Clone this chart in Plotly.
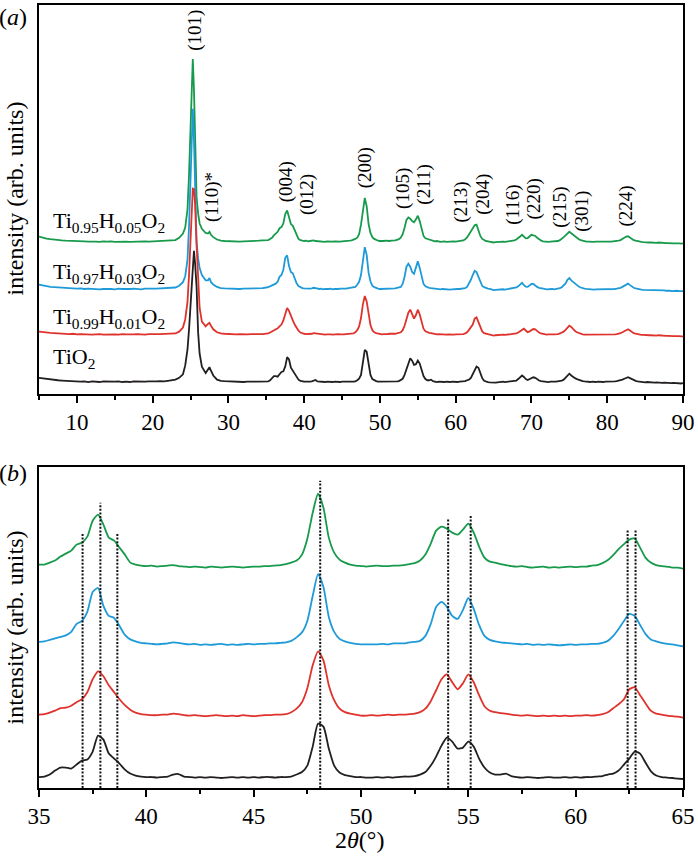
import plotly.graph_objects as go

# ---------------- data (2-theta in degrees, intensity in arb. units above each baseline) -------------
theta_low = [5.0 + 0.5 * i for i in range(36)]            # 5.0 ... 22.5
theta_101 = [23.0, 23.5, 24.0, 24.3, 24.6, 24.8, 25.0, 25.15, 25.3, 25.45, 25.6, 25.8,
             26.0, 26.2, 26.5, 27.0, 27.3, 27.5, 27.7, 28.0, 28.5, 29.0]
theta_mid = [29.5 + 0.5 * i for i in range(11)]            # 29.5 ... 34.5
theta_high = [35.0 + 0.25 * i for i in range(221)]         # 35.0 ... 90.0

# ---- TiO2 (black)
tio2_low = [7, 6, 5, 4.5, 3.5, 3, 2.5, 2, 1.5, 1, 1.5, 0.5, 1, 0, 1, 0.5, 0, 1, 0.5, 0,
            0.5, 1, 0, 0.5, 0, 1, 0.5, 0, 0.5, 1, 0.5, 1, 1.5, 1, 2, 2.5]
tio2_101 = [4, 7, 13, 28, 55, 88, 130, 170, 205, 221, 200, 160, 84, 48, 26, 15, 21, 25, 19, 11, 4, 2]
tio2_mid = [1.5, 1, 0.5, 1, 0.5, 0, 0.5, 1, 0.5, 0.5, 0.5]
tio2_high = [
    0.5, 1, 3, 7,   10, 10, 9, 13,   17, 18, 26, 42,   38, 24, 19, 14,   8, 4, 2, 1,        # 35-39
    0.5, 0.5, 0, 0.5,   1, 3, 3.5, 1,   0.5, 0, 0.5, 0,   0.5, 0, -0.5, 0,   0.5, 0, 0.5, 0,  # 40-44
    0.5, 0, 0.5, 0.5,   0, 0.5, 0.5, 1,   3, 5.5, 12, 31,   54, 51, 29, 12,   5, 2.5, 1.5, 0.5,  # 45-49
    0.5, 0, 0, 0.5,   0, 0.5, 0, 0.5,   1, 1, 1.5, 3,   5.5, 12, 21, 32,   40, 36, 29, 30,  # 50-54
    36, 31, 19, 10,   5, 3, 3, 4,   1.5, 0.5, 0, 0.5,   0, -0.5, 0, 0.5,   0, 0, 0.5, 0,     # 55-59
    0.5, 0, 0.5, 0.5,   1, 1.5, 3, 4,   7, 13, 19, 26,   24, 15, 6.5, 2,   0.5, 0, -0.5, -1,  # 60-64
    -1.5, -1, -0.5, 0,   0, 0.5, 0, 0.5,   0, 0.5, 1, 1.5,   2.5, 5, 8, 11,   8.5, 5, 3.5, 5,  # 65-69
    6.5, 8, 7, 4,   2.5, 1.5, 1, 0.5,   0.5, 0, 0.5, 0,   0.5, 0.5, 1, 1.5,   2.5, 4, 7, 11,  # 70-74
    14, 11, 8, 6.5,   5, 3.5, 2.5, 1.5,   1, 0.5, 0.5, 0,   0.5, 0, 0, 0.5,   0, 0.5, 0, 0.5,  # 75-79
    0.5, 0, 0.5, 1,   1, 1.5, 2, 3,   4, 5.5, 7, 8,   6.5, 4.5, 3, 2,   1, 0.5, 0, 0,        # 80-84
    -0.5, 0, -0.5, -1,   -0.5, -1, -0.5, -1,   -1, -1.5, -1, -1.5,   -1, -1.5, -2, -1.5,
    -2, -1.5, -2, -2.5,                                                                     # 85-89
    -2]                                                                                     # 90

# ---- Ti0.99H0.01O2 (red)
h01_low = [5, 4, 3.5, 3, 2.5, 2, 2, 1.5, 1, 1.5, 0.5, 1, 0.5, 1, 0, 0.5, 1, 0, 0.5, 1,
           0.5, 0, 1, 0.5, 0, 0.5, 1, 0.5, 0, 1, 0.5, 1, 1, 1.5, 1.5, 2]
h01_101 = [2, 5, 12, 26, 55, 100, 165, 220, 246, 245, 220, 150, 90, 45, 22, 14, 18, 20, 15, 9, 4, 2]
h01_mid = [1.5, 1, 1, 0.5, 1, 0.5, 0.5, 1, 0.5, 1, 1]
h01_high = [
    1.5, 2, 3.5, 5.5,   8, 8.5, 10.5, 14,   17, 24, 37, 45,   40, 31, 24, 17,   11, 6.5, 3.5, 2,
    1.5, 1, 1, 1.5,   1.5, 2.5, 2, 1,   0.5, 1, 0.5, 0,   0.5, 1, 0.5, 0,   0.5, 0, 1, 0.5,
    0, 0.5, 1, 1,   1.5, 1.5, 2, 4,   7.5, 14, 28, 51,   65, 56, 31, 16,   7.5, 4, 2.5, 1.5,
    0.5, 0.5, 1, 0.5,   1, 1.5, 1, 1.5,   1.5, 2, 2.5, 4,   7.5, 15, 26, 37,   42, 34, 27, 33,
    42, 34, 21, 10,   5.5, 4, 3, 2.5,   1.5, 1, 0.5, 1,   0.5, 0, 0.5, 0,   0.5, 0, 0.5, 0,
    0.5, 0.5, 1, 0.5,   1, 2, 4, 8,   12, 17, 27, 29,   21, 13, 5.5, 2.5,   1.5, 0.5, 0, -0.5,
    -1.5, -1, -0.5, -1,   -0.5, 0, -0.5, 0,   -0.5, 0, 0.5, 1,   2, 3.5, 5.5, 8.5,   10, 7, 4, 5.5,
    7.5, 9.5, 9, 6,   3.5, 2, 1, 0.5,   0, 0.5, 0, 0.5,   0.5, 0.5, 1, 2,   3, 5, 8, 12,
    15, 13, 9, 6,   4, 2.5, 1.5, 0.5,   0, 0, -0.5, 0,   0, -0.5, 0, 0,   -0.5, 0, 0, 0.5,
    0, 0, 0.5, 0.5,   0.5, 1, 1.5, 2.5,   4, 6, 8, 9,   7, 4.5, 2.5, 1.5,   0.5, 0, -0.5, -0.5,
    -1, -0.5, -1, -1,   -1.5, -1, -1.5, -1,   -1.5, -2, -1.5, -2,   -2, -2.5, -2, -2.5,
    -2.5, -2, -2.5, -3,
    -3]

# ---- Ti0.97H0.03O2 (blue)
h03_low = [8, 6.5, 5, 4, 3.5, 3, 2.5, 2, 1.5, 2, 1, 1.5, 0.5, 1, 0.5, 1, 0, 0.5, 1, 0.5,
           0, 1, 0.5, 0, 0.5, 1, 0.5, 0, 1, 0.5, 1, 1, 1.5, 1.5, 2, 2.5]
h03_101 = [3, 6, 12, 22, 50, 105, 185, 275, 304, 252, 150, 80, 52, 36, 24, 15, 15, 19, 12, 8, 4, 2]
h03_mid = [1.5, 1, 1.5, 1, 0.5, 1, 1, 1.5, 1.5, 2, 2]
h03_high = [
    3, 3.5, 5, 6.5,   8, 9.5, 13, 21,   24, 33, 53, 57,   39, 29, 27, 19,   10, 5.5, 3.5, 2,
    1.5, 1, 0.5, 1,   1.5, 2.5, 2, 1,   0.5, 1, 0, 0.5,   0, 0.5, 1, 0,   0.5, 0, 0.5, 1,
    0.5, 1, 1, 1.5,   1.5, 2, 2.5, 4,   7.5, 12.5, 24, 49,   71, 58, 28, 13,   6, 3.5, 2, 1,
    0.5, 0.5, 0.5, 0.5,   1, 0.5, 1.5, 1.5,   1.5, 2.5, 3, 4,   9, 21, 38, 43,   38, 29, 26, 35,
    47, 36, 20, 9,   5, 3.5, 2.5, 2,   1.5, 1, 0.5, 1,   0, 0.5, 0, 0.5,   0, -0.5, 0, 0.5,
    0, 0.5, 0.5, 1,   1, 2, 4, 9,   16, 24, 31, 29,   20, 11, 5.5, 3.5,   2, 1, 0.5, -0.5,
    -1.5, -1, -0.5, -1,   -0.5, 0, -0.5, 0,   0.5, 0.5, 1, 1.5,   3, 5, 8, 11,   7, 4.5, 4, 7,
    9, 9, 6, 4,   2.5, 1.5, 0.5, 0.5,   0, 0.5, 0, 0.5,   0, 0.5, 1, 2,   3.5, 6, 10, 16,
    19, 15, 12, 9,   6.5, 4.5, 3, 1.5,   1, 0.5, 0, 0.5,   0, -0.5, 0, 0,   -0.5, 0, 0.5, 0,
    0, 0.5, 0, 0.5,   0.5, 1, 1.5, 2.5,   4, 6, 8.5, 9.5,   7, 4.5, 2.5, 1.5,   0.5, 0, -0.5, -1,
    -1, -1, -1.5, -1,   -1.5, -2, -1.5, -2,   -2, -1.5, -2, -2.5,   -2, -2.5, -3, -2.5,
    -3, -2.5, -3, -3.5,
    -3]

# ---- Ti0.95H0.05O2 (green)
h05_low = [9, 7, 5.5, 4.5, 3.5, 3, 2.5, 2, 2, 1.5, 1, 1.5, 1, 0.5, 1, 0.5, 0, 1, 0.5, 1,
           0, 0.5, 1, 0.5, 0, 0.5, 1, 0.5, 1, 0.5, 1, 1.5, 1, 1.5, 2, 2.5]
h05_101 = [3, 7, 14, 24, 55, 112, 195, 262, 308, 258, 150, 75, 48, 31, 22, 15, 14, 17, 12, 8, 4, 2]
h05_mid = [1.5, 1, 1.5, 1, 0.5, 1, 1, 1.5, 2, 2, 2.5]
h05_high = [
    3, 3, 5, 7,   11, 14, 17, 23,   25, 31, 47, 53,   43, 30, 27, 20,   13, 5, 3, 2,
    1.5, 2, 1, 1.5,   2, 2.5, 1.5, 1,   0.5, 1, 0.5, 0,   1, 0.5, 0, 0.5,   1, 0.5, 0, 0.5,
    1, 1, 1.5, 1.5,   2, 2.5, 3.5, 5,   7, 13, 29, 55,   74, 60, 30, 15,   8, 5, 3, 2,
    1.5, 1, 1.5, 2,   1.5, 1.5, 2, 2,   2.5, 3.5, 4.5, 7,   13, 24, 37, 41,   39, 35, 33, 38,
    44, 35, 21, 10,   6, 5, 3.5, 2.5,   1.5, 1, 1.5, 0.5,   0, 0.5, 1, 0,   0.5, 0, 0.5, 1,
    0.5, 1, 1, 2,   2.5, 4.5, 7.5, 12.5,   18.5, 23.5, 28, 29,   20, 10, 5, 2.5,   1.5, 1, 0, 0,
    -1, -0.5, 0, -0.5,   0, 0.5, 0, 0.5,   0.5, 1, 1.5, 2.5,   4, 6, 9, 12,   9, 6, 6.5, 10,
    12, 11, 10, 7,   4, 2.5, 1, 0.5,   0.5, 0, 0.5, 0.5,   1, 1, 1.5, 3,   5, 8, 11, 15,
    17, 14.5, 12, 9,   6, 4.5, 3, 2,   1, 0.5, 0.5, 0,   0.5, 0, 0.5, 0,   0.5, 0.5, 0, 0.5,
    0.5, 0, 0.5, 1,   1, 1.5, 2, 3,   5, 7, 9, 9.5,   7, 5, 3, 2,   1, 0.5, 0, -0.5,
    -1, -0.5, -1, -1,   -1.5, -1, -1.5, -1,   -1.5, -2, -1.5, -2,   -2, -2.5, -2, -2.5,
    -2.5, -2, -2.5, -3,
    -2.5]

sample_names = ["TiO<sub>2</sub>",
                "Ti<sub>0.99</sub>H<sub>0.01</sub>O<sub>2</sub>",
                "Ti<sub>0.97</sub>H<sub>0.03</sub>O<sub>2</sub>",
                "Ti<sub>0.95</sub>H<sub>0.05</sub>O<sub>2</sub>"]
sample_colors = ["#231f20", "#e0322c", "#1f9ad8", "#179a4b"]

# Miller indices marked in panel (a)
hkl_labels = ["(101)", "(110)*", "(004)", "(012)", "(200)", "(105)", "(211)", "(213)", "(204)",
              "(116)", "(220)", "(215)", "(301)", "(224)"]
hkl_theta = [25.55, 27.9, 37.7, 40.3, 47.95, 52.96, 55.85, 60.73, 63.5, 67.45, 70.35, 73.65, 76.67, 82.5]

# reference peak positions (dotted lines) in panel (b)
ref_theta = [37.03, 37.86, 38.65, 48.10, 54.06, 55.11, 62.42, 62.79]

# ---------------- assembly / styling ----------------
theta = theta_low + theta_101 + theta_mid + theta_high
intens = [tio2_low + tio2_101 + tio2_mid + tio2_high,
          h01_low + h01_101 + h01_mid + h01_high,
          h03_low + h03_101 + h03_mid + h03_high,
          h05_low + h05_101 + h05_mid + h05_high]
for s in intens:
    assert len(s) == len(theta), (len(s), len(theta))

top_offsets = [20.2, 100.0, 176.4, 256.2]
bot_offsets = [10.5, 72.0, 143.5, 221.0]
TOP_RANGE = [0, 655.2]
BOT_RANGE = [0, 322]

FONT = '"Liberation Serif"'
LW = 1.8
fig = go.Figure()

order = [3, 2, 1, 0]
for i in order:
    fig.add_trace(go.Scatter(x=theta, y=[v + top_offsets[i] for v in intens[i]],
                             mode="lines", line=dict(color=sample_colors[i], width=LW),
                             xaxis="x", yaxis="y", showlegend=False, hoverinfo="skip"))
for i in order:
    xs = [t for t in theta if 35 <= t <= 65]
    ys = [v + bot_offsets[i] for t, v in zip(theta, intens[i]) if 35 <= t <= 65]
    fig.add_trace(go.Scatter(x=xs, y=ys, mode="lines",
                             line=dict(color=sample_colors[i], width=LW, shape="spline", smoothing=0.6),
                             xaxis="x2", yaxis="y2", showlegend=False, hoverinfo="skip"))

ref_tops = [256, 286, 256, 308, 270, 274, 259, 259]
for t, top in zip(ref_theta, ref_tops):
    fig.add_trace(go.Scatter(x=[t, t], y=[0, top], mode="lines",
                             line=dict(color="#111111", width=2, dash="2px,1.6px"),
                             xaxis="x2", yaxis="y2", showlegend=False, hoverinfo="skip"))

axis_common = dict(showline=True, linecolor="black", linewidth=1.5, mirror=True,
                   showgrid=False, zeroline=False)
fig.update_layout(
    width=698, height=858,
    margin=dict(l=39, r=13, t=3, b=70),
    paper_bgcolor="white", plot_bgcolor="white",
    font=dict(family=FONT, color="black", size=22),
    xaxis=dict(domain=[0, 1], anchor="y", range=[5, 90], tick0=0, dtick=10,
               ticks="outside", ticklen=7, tickwidth=1.5, tickcolor="black",
               tickfont=dict(family=FONT, size=23),
               minor=dict(dtick=5, ticks="outside", ticklen=4, tickwidth=1.5, tickcolor="black"),
               **axis_common),
    yaxis=dict(domain=[0.50318, 1], anchor="x", range=TOP_RANGE, showticklabels=False,
               ticks="", **axis_common),
    xaxis2=dict(domain=[0, 1], anchor="y2", range=[35, 65], tick0=35, dtick=5,
                ticks="outside", ticklen=7, tickwidth=1.5, tickcolor="black",
                tickfont=dict(family=FONT, size=23),
                minor=dict(dtick=2.5, ticks="outside", ticklen=4, tickwidth=1.5, tickcolor="black"),
                **axis_common),
    yaxis2=dict(domain=[0, 0.41019], anchor="x2", range=BOT_RANGE, showticklabels=False,
                ticks="", **axis_common),
)

ann = []
hkl_y = [613, 331, 358, 336, 381, 346, 353, 323, 336, 319, 328, 314, 307, 316]
for lab, t, yv in zip(hkl_labels, hkl_theta, hkl_y):
    ann.append(dict(x=t, y=yv, xref="x", yref="y", text=lab, textangle=-90, showarrow=False,
                    font=dict(family=FONT, size=19), xanchor="center", yanchor="middle"))
label_y = [60.5, 127.5, 203.5, 290.5]
for name, yv in zip(sample_names, label_y):
    ann.append(dict(x=0.0186, y=yv, xref="paper", yref="y", text=name, showarrow=False,
                    font=dict(family=FONT, size=22), xanchor="left", yanchor="middle"))
ann.append(dict(x=-0.040, y=0.9847, xref="paper", yref="paper", text="(<i>a</i>)", showarrow=False,
                font=dict(family=FONT, size=24), xanchor="center", yanchor="middle"))
ann.append(dict(x=-0.040, y=0.4025, xref="paper", yref="paper", text="(<i>b</i>)", showarrow=False,
                font=dict(family=FONT, size=24), xanchor="center", yanchor="middle"))
for yc in [0.7529, 0.2051]:
    ann.append(dict(x=-0.0372, y=yc, xref="paper", yref="paper", text="intensity (arb. units)",
                    textangle=-90, showarrow=False, font=dict(family=FONT, size=24),
                    xanchor="center", yanchor="middle"))
ann.append(dict(x=0.498, y=-0.0662, xref="paper", yref="paper", text="2<i>θ</i>(°)",
                showarrow=False, font=dict(family=FONT, size=24), xanchor="center", yanchor="middle"))
fig.update_layout(annotations=ann)

fig.write_html("out.html", config={"displayModeBar": False},
               post_script="document.body.style.margin='0';")
